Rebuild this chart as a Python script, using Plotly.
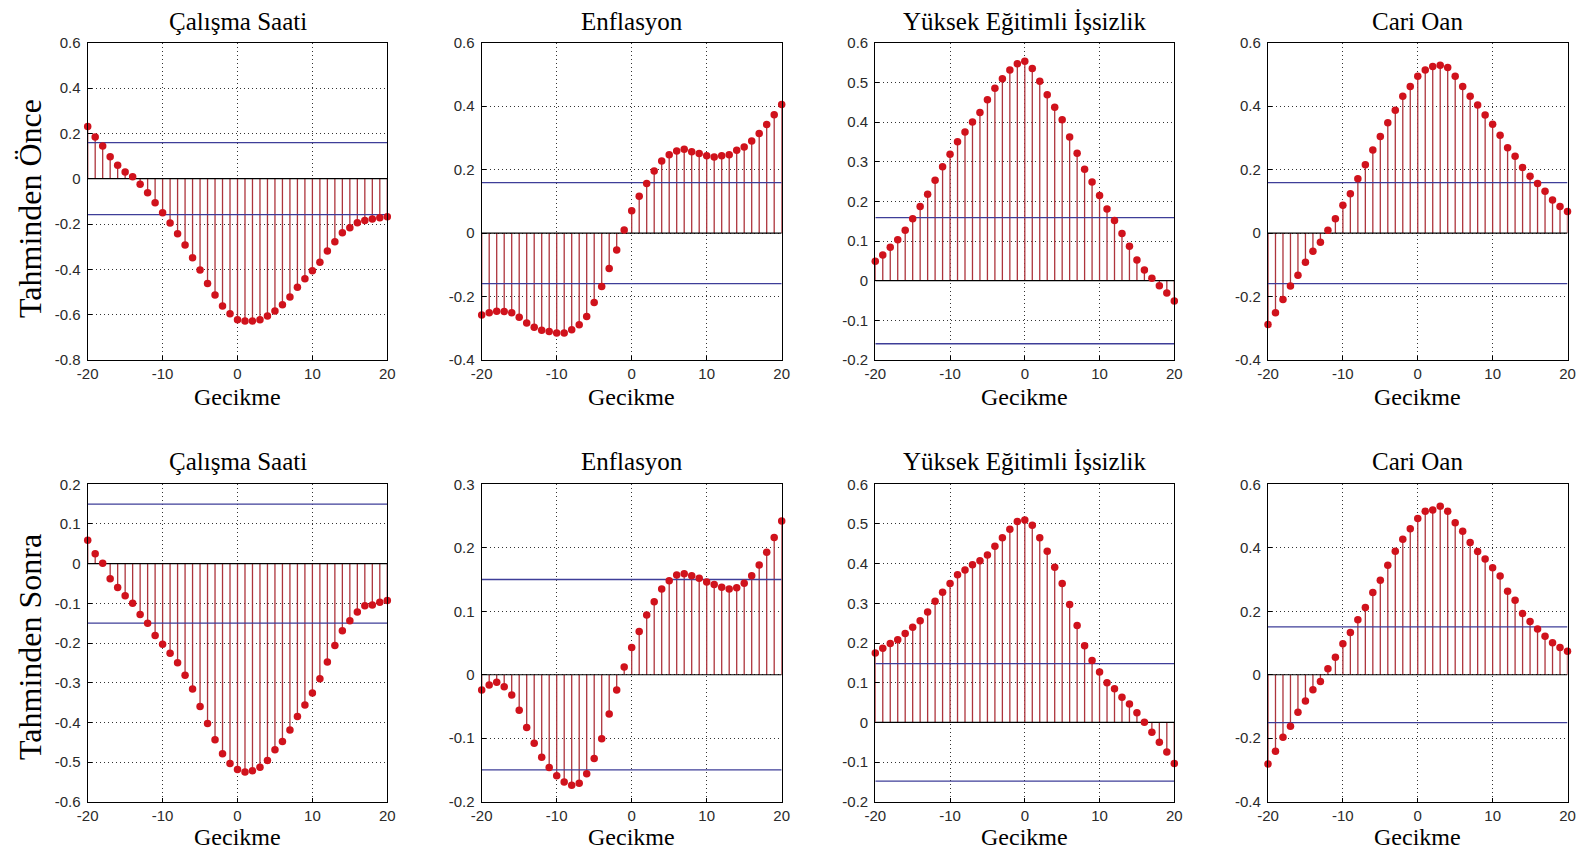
import plotly.graph_objects as go

# ---------------- data ----------------
lags = list(range(-20, 21))

once_calisma = [0.230, 0.184, 0.144, 0.097, 0.059, 0.029, 0.009, -0.024, -0.062, -0.106,
                -0.150, -0.196, -0.243, -0.293, -0.349, -0.403, -0.463, -0.513, -0.562, -0.596,
                -0.622, -0.628, -0.628, -0.622, -0.606, -0.584, -0.556, -0.522, -0.479, -0.441,
                -0.406, -0.369, -0.319, -0.278, -0.238, -0.216, -0.194, -0.184, -0.178, -0.172,
                -0.168]
once_enflasyon = [-0.258, -0.251, -0.246, -0.247, -0.251, -0.265, -0.283, -0.297, -0.306, -0.310,
                  -0.315, -0.315, -0.305, -0.289, -0.263, -0.219, -0.168, -0.112, -0.053, 0.010,
                  0.070, 0.116, 0.156, 0.196, 0.227, 0.247, 0.259, 0.264, 0.256, 0.251,
                  0.244, 0.240, 0.244, 0.247, 0.261, 0.271, 0.290, 0.314, 0.342, 0.373,
                  0.405]
once_yuksek = [0.049, 0.065, 0.084, 0.103, 0.127, 0.156, 0.187, 0.218, 0.253, 0.287,
               0.319, 0.350, 0.375, 0.400, 0.424, 0.456, 0.485, 0.509, 0.531, 0.547,
               0.553, 0.535, 0.503, 0.469, 0.437, 0.406, 0.362, 0.321, 0.281, 0.249,
               0.215, 0.181, 0.152, 0.119, 0.087, 0.052, 0.027, 0.006, -0.013, -0.031,
               -0.051]
once_cari = [-0.288, -0.251, -0.209, -0.167, -0.133, -0.092, -0.057, -0.029, 0.009, 0.045,
             0.088, 0.124, 0.171, 0.215, 0.262, 0.304, 0.348, 0.387, 0.431, 0.462,
             0.494, 0.514, 0.525, 0.529, 0.522, 0.494, 0.462, 0.431, 0.404, 0.372,
             0.343, 0.308, 0.269, 0.242, 0.207, 0.179, 0.156, 0.132, 0.104, 0.084,
             0.068]

sonra_calisma = [0.059, 0.025, 0.001, -0.038, -0.060, -0.081, -0.100, -0.128, -0.150, -0.181,
                 -0.203, -0.226, -0.250, -0.281, -0.316, -0.360, -0.403, -0.444, -0.479, -0.504,
                 -0.519, -0.525, -0.522, -0.513, -0.496, -0.469, -0.448, -0.419, -0.385, -0.356,
                 -0.326, -0.290, -0.248, -0.206, -0.169, -0.144, -0.122, -0.106, -0.104, -0.097,
                 -0.093]
sonra_enflasyon = [-0.024, -0.016, -0.012, -0.019, -0.032, -0.056, -0.083, -0.108, -0.130, -0.146,
                   -0.159, -0.169, -0.174, -0.171, -0.156, -0.132, -0.101, -0.062, -0.024, 0.012,
                   0.043, 0.068, 0.094, 0.115, 0.135, 0.148, 0.157, 0.159, 0.156, 0.152,
                   0.146, 0.142, 0.138, 0.135, 0.137, 0.144, 0.156, 0.173, 0.193, 0.216,
                   0.242]
sonra_yuksek = [0.175, 0.187, 0.199, 0.208, 0.224, 0.240, 0.256, 0.278, 0.305, 0.328,
                0.350, 0.372, 0.384, 0.397, 0.407, 0.422, 0.444, 0.465, 0.487, 0.506,
                0.510, 0.497, 0.465, 0.431, 0.391, 0.350, 0.297, 0.244, 0.193, 0.156,
                0.127, 0.100, 0.085, 0.063, 0.046, 0.024, 0.000, -0.025, -0.050, -0.075,
                -0.104]
sonra_cari = [-0.281, -0.241, -0.197, -0.162, -0.118, -0.083, -0.047, -0.021, 0.019, 0.055,
              0.098, 0.133, 0.173, 0.212, 0.259, 0.298, 0.345, 0.389, 0.427, 0.460,
              0.492, 0.515, 0.519, 0.531, 0.515, 0.479, 0.452, 0.417, 0.388, 0.365,
              0.337, 0.311, 0.263, 0.235, 0.193, 0.168, 0.144, 0.121, 0.101, 0.086,
              0.074]

panel_titles = ["Çalışma Saati", "Enflasyon", "Yüksek Eğitimli İşsizlik", "Cari Oan",
                "Çalışma Saati", "Enflasyon", "Yüksek Eğitimli İşsizlik", "Cari Oan"]
row_labels = ["Tahminden Önce", "Tahminden Sonra"]
x_label = "Gecikme"

conf_levels = [0.159, 0.159, 0.159, 0.159, 0.150, 0.150, 0.148, 0.151]

x_tickvals = [-20, -10, 0, 10, 20]
x_ticktext = ["-20", "-10", "0", "10", "20"]

y_tickvals = [
    [-0.8, -0.6, -0.4, -0.2, 0, 0.2, 0.4, 0.6],
    [-0.4, -0.2, 0, 0.2, 0.4, 0.6],
    [-0.2, -0.1, 0, 0.1, 0.2, 0.3, 0.4, 0.5, 0.6],
    [-0.4, -0.2, 0, 0.2, 0.4, 0.6],
    [-0.6, -0.5, -0.4, -0.3, -0.2, -0.1, 0, 0.1, 0.2],
    [-0.2, -0.1, 0, 0.1, 0.2, 0.3],
    [-0.2, -0.1, 0, 0.1, 0.2, 0.3, 0.4, 0.5, 0.6],
    [-0.4, -0.2, 0, 0.2, 0.4, 0.6],
]
y_ticktext = [
    ["-0.8", "-0.6", "-0.4", "-0.2", "0", "0.2", "0.4", "0.6"],
    ["-0.4", "-0.2", "0", "0.2", "0.4", "0.6"],
    ["-0.2", "-0.1", "0", "0.1", "0.2", "0.3", "0.4", "0.5", "0.6"],
    ["-0.4", "-0.2", "0", "0.2", "0.4", "0.6"],
    ["-0.6", "-0.5", "-0.4", "-0.3", "-0.2", "-0.1", "0", "0.1", "0.2"],
    ["-0.2", "-0.1", "0", "0.1", "0.2", "0.3"],
    ["-0.2", "-0.1", "0", "0.1", "0.2", "0.3", "0.4", "0.5", "0.6"],
    ["-0.4", "-0.2", "0", "0.2", "0.4", "0.6"],
]

series = [once_calisma, once_enflasyon, once_yuksek, once_cari,
          sonra_calisma, sonra_enflasyon, sonra_yuksek, sonra_cari]

# ---------------- layout geometry ----------------
# page is 1585x858; the body keeps its default 8px margin, so the figure is 16px smaller
OFF = 8
W, H = 1585 - 2 * OFF, 858 - 2 * OFF
col_px = [(87.7, 387.3), (481.7, 781.7), (875.3, 1174.3), (1268.0, 1567.5)]
row_px = [(42.7, 360.0), (484.3, 801.7)]


def px_x(v):
    return (v - OFF) / W


def px_y(v):
    return 1 - (v - OFF) / H


STEM = "#ad343c"
MARK = "#d0121c"
CONF = "#3e3e98"
GRID = "#333333"
TICKFONT = dict(family="Liberation Sans, Arial, sans-serif", size=15, color="#2a2a2a")
SERIF = "Liberation Serif, Times New Roman, serif"

fig = go.Figure()
layout_axes = {}
annotations = []

for i, vals in enumerate(series):
    n = i + 1
    r, c = divmod(i, 4)
    xname = "x" if n == 1 else f"x{n}"
    yname = "y" if n == 1 else f"y{n}"

    sx, sy = [], []
    for lag, v in zip(lags, vals):
        sx += [lag, lag, None]
        sy += [0, v, None]
    fig.add_trace(go.Scatter(x=sx, y=sy, mode="lines", line=dict(color=STEM, width=1.3),
                             xaxis=xname, yaxis=yname, hoverinfo="skip", showlegend=False))
    fig.add_trace(go.Scatter(x=[lags[0], lags[-1]], y=[0, 0], mode="lines",
                             line=dict(color="black", width=1.2),
                             xaxis=xname, yaxis=yname, hoverinfo="skip", showlegend=False))
    cl = conf_levels[i]
    fig.add_trace(go.Scatter(x=[lags[0], lags[-1], None, lags[0], lags[-1]],
                             y=[cl, cl, None, -cl, -cl], mode="lines",
                             line=dict(color=CONF, width=1.3),
                             xaxis=xname, yaxis=yname, hoverinfo="skip", showlegend=False))
    fig.add_trace(go.Scatter(x=lags, y=vals, mode="markers",
                             marker=dict(color=MARK, size=7.5, line=dict(width=0)),
                             cliponaxis=False, xaxis=xname, yaxis=yname, showlegend=False))

    x0, x1 = col_px[c]
    yt, yb = row_px[r]
    xd = [px_x(x0), px_x(x1)]
    yd = [px_y(yb), px_y(yt)]
    yv = y_tickvals[i]
    common = dict(showgrid=True, gridcolor=GRID, griddash="1px,3px", gridwidth=1,
                  showline=True, linecolor="black", linewidth=1.2, mirror=True,
                  ticks="inside", ticklen=4, tickcolor="black", zeroline=False,
                  automargin=False, tickfont=TICKFONT, ticklabeloverflow="allow")
    layout_axes["xaxis" if n == 1 else f"xaxis{n}"] = dict(
        domain=xd, anchor=yname, range=[lags[0], lags[-1]],
        tickmode="array", tickvals=x_tickvals, ticktext=x_ticktext, **common)
    layout_axes["yaxis" if n == 1 else f"yaxis{n}"] = dict(
        domain=yd, anchor=xname, range=[yv[0], yv[-1]], ticklabelstandoff=3,
        tickmode="array", tickvals=yv, ticktext=y_ticktext[i], **common)

    cx = (xd[0] + xd[1]) / 2
    title_y = px_y([21.5, 461.0][r])
    gec_y = px_y([397.0, 836.5][r])
    annotations.append(dict(text=panel_titles[i], x=cx, y=title_y, xref="paper", yref="paper",
                            xanchor="center", yanchor="middle", showarrow=False, borderpad=0,
                            font=dict(family=SERIF, size=25, color="black")))
    annotations.append(dict(text=x_label, x=cx, y=gec_y, xref="paper", yref="paper",
                            xanchor="center", yanchor="middle", showarrow=False, borderpad=0,
                            font=dict(family=SERIF, size=24, color="black")))

for r, lab in enumerate(row_labels):
    annotations.append(dict(text=lab, x=px_x(30), y=px_y([209, 647][r]),
                            xref="paper", yref="paper", xanchor="center", yanchor="middle",
                            textangle=-90, showarrow=False, borderpad=0,
                            font=dict(family=SERIF, size=32, color="black")))

fig.update_layout(width=W, height=H,
                  margin=dict(l=0, r=0, t=0, b=0, autoexpand=False),
                  paper_bgcolor="white", plot_bgcolor="white",
                  annotations=annotations, showlegend=False, **layout_axes)

fig.write_html("out.html", config={"displayModeBar": False})
